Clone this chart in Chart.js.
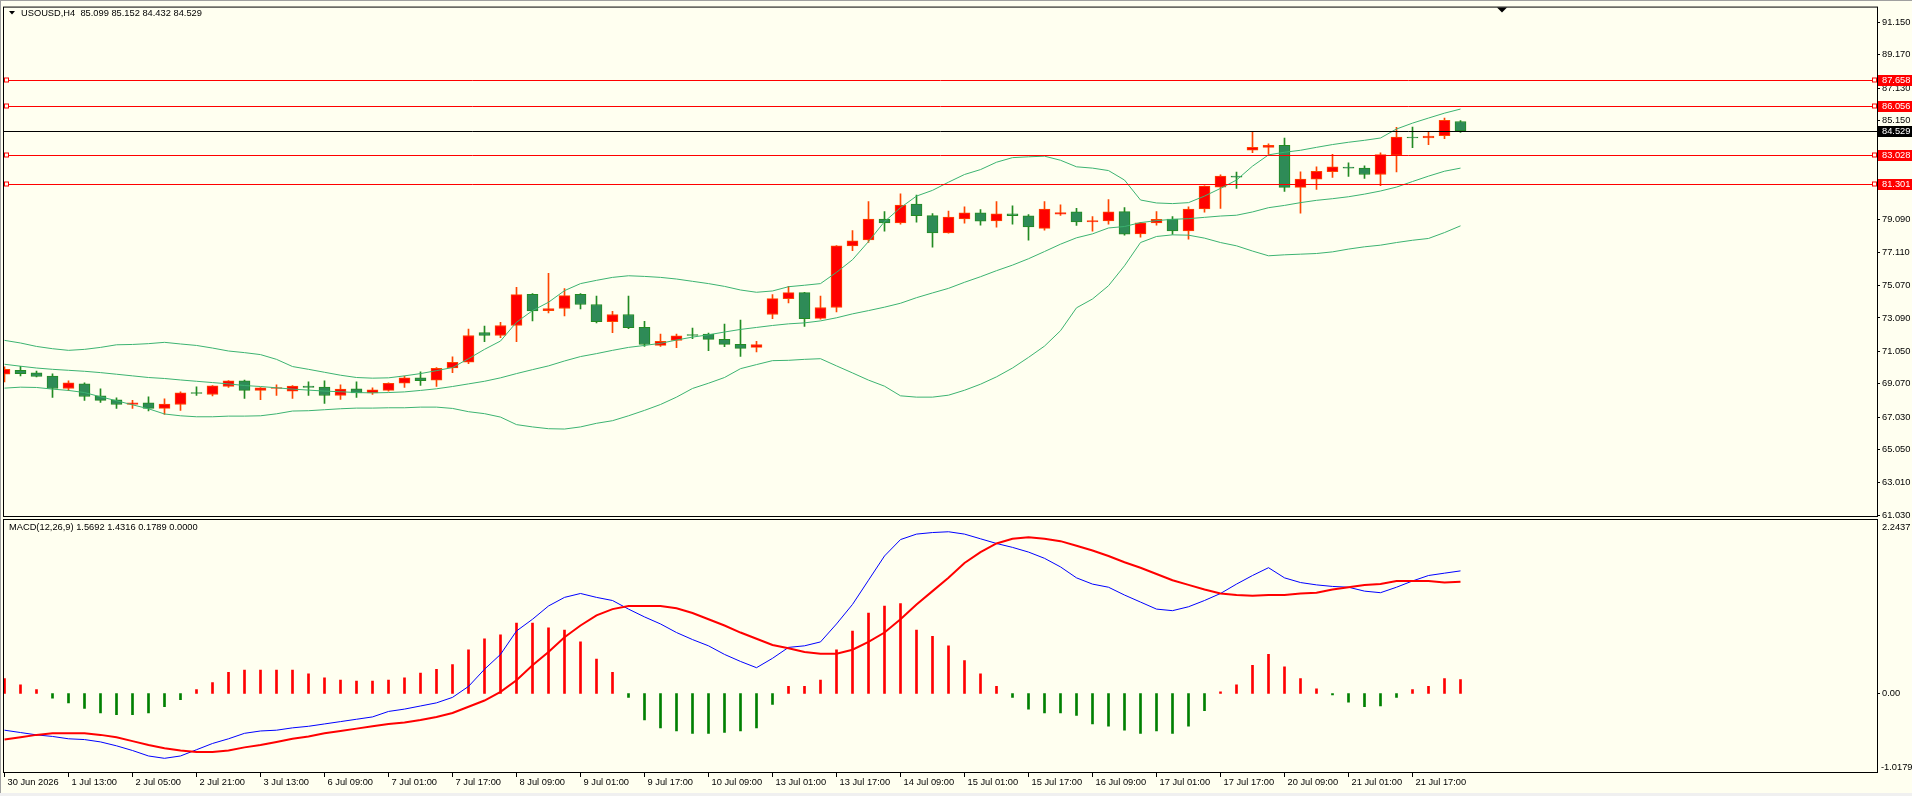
<!DOCTYPE html>
<html><head><meta charset="utf-8">
<script src="https://cdn.jsdelivr.net/npm/chart.js@4.4.1/dist/chart.umd.min.js"></script>
<style>html,body{margin:0;padding:0;background:#FFFFF0;overflow:hidden}canvas{display:block}</style>
</head><body>
<canvas id="c" width="1912" height="796"></canvas>
<script>
const symbolTitle = 'USOUSD,H4  85.099 85.152 84.432 84.529';
const macdTitle = 'MACD(12,26,9) 1.5692 1.4316 0.1789 0.0000';
const xTickLabels = ['30 Jun 2026','1 Jul 13:00','2 Jul 05:00','2 Jul 21:00','3 Jul 13:00','6 Jul 09:00','7 Jul 01:00','7 Jul 17:00','8 Jul 09:00','9 Jul 01:00','9 Jul 17:00','10 Jul 09:00','13 Jul 01:00','13 Jul 17:00','14 Jul 09:00','15 Jul 01:00','15 Jul 17:00','16 Jul 09:00','17 Jul 01:00','17 Jul 17:00','20 Jul 09:00','21 Jul 01:00','21 Jul 17:00'];
const barsPerTick = 4;
const priceTicks = [91.150,89.170,87.130,85.150,83.110,81.130,79.090,77.110,75.070,73.090,71.050,69.070,67.030,65.050,63.010,61.030];
const levels = [87.658, 86.056, 83.028, 81.301];
const lastPrice = 84.529;
const macdTicks = [2.2437, 0, -1.0179];

const openV = [69.65,69.89,69.73,69.53,68.78,69.06,68.33,68.09,67.80,67.90,67.56,67.80,68.50,68.41,68.90,69.24,68.66,68.78,68.62,68.92,68.86,68.35,68.76,68.51,
68.66,69.10,69.43,69.28,70.03,70.38,72.20,72.02,72.63,74.54,73.54,73.67,74.54,73.91,72.87,73.30,72.51,71.41,71.72,72.08,72.10,71.78,71.48,
71.29,73.30,74.27,74.64,73.06,73.73,77.50,77.86,79.14,78.90,80.05,79.35,78.29,79.14,79.51,79.02,79.45,79.33,78.57,79.43,79.57,78.96,79.02,
79.59,78.23,78.90,79.14,78.41,79.75,81.09,81.76,83.34,83.52,83.65,81.07,81.58,82.04,82.29,82.25,81.86,83.04,84.13,84.09,84.23,85.099];
const highV = [70.10,70.14,69.85,69.67,69.24,69.12,68.76,68.21,68.05,68.27,68.15,68.57,68.88,68.96,69.26,69.30,68.84,69.00,68.96,69.18,69.24,69.00,69.18,68.82,
69.12,69.53,69.79,70.06,70.72,72.41,72.59,72.83,74.96,74.58,75.82,74.88,74.58,74.42,73.50,74.42,72.89,72.10,72.10,72.47,72.16,72.71,72.96,
71.66,74.52,75.02,74.66,74.42,77.52,78.43,80.20,79.59,80.68,80.60,79.47,79.63,79.89,79.71,80.20,79.95,79.41,80.20,80.01,79.79,79.28,80.32,
79.83,78.94,79.59,79.28,79.89,81.17,81.84,82.00,84.46,83.73,84.09,82.02,82.33,83.10,82.57,82.39,83.18,84.74,84.76,84.46,85.31,85.152];
const lowV = [69.18,69.55,69.49,68.23,68.64,68.05,67.93,67.56,67.56,67.40,67.20,67.44,68.35,68.33,68.84,68.17,68.09,68.35,68.17,68.35,67.86,68.11,68.23,68.41,
68.62,68.84,68.96,68.90,69.75,70.30,71.64,71.88,71.64,72.91,73.40,73.22,73.65,72.79,72.19,72.43,71.35,71.35,71.27,71.82,71.09,71.33,70.74,
71.01,73.04,74.01,72.57,73.02,73.46,77.21,77.70,78.39,78.82,78.94,77.42,78.27,78.88,78.76,78.64,78.82,77.84,78.45,79.36,78.74,78.39,78.82,
78.15,78.03,78.76,78.19,77.90,79.55,79.79,81.01,83.20,83.08,80.83,79.49,80.95,81.68,81.74,81.62,81.17,82.02,83.50,83.69,84.05,84.432];
const closeV = [69.95,69.69,69.51,68.78,69.12,68.29,68.05,67.80,67.90,67.56,67.82,68.51,68.47,68.94,69.24,68.66,68.82,68.82,68.92,68.84,68.35,68.74,68.51,68.70,
69.10,69.43,69.26,70.01,70.38,72.02,72.02,72.63,74.52,73.52,73.67,74.46,73.91,72.87,73.30,72.49,71.47,71.66,72.00,72.02,71.78,71.48,71.23,
71.47,74.27,74.64,73.04,73.73,77.50,77.80,79.14,78.90,79.99,79.35,78.29,79.26,79.51,79.00,79.45,79.35,78.66,79.75,79.53,78.96,79.04,79.57,
78.21,78.90,79.12,78.41,79.75,81.15,81.76,81.70,83.52,83.65,81.07,81.58,82.06,82.33,82.25,81.86,83.08,84.15,84.09,84.21,85.17,84.529];

const bbUpper = [71.72,71.56,71.35,71.21,71.11,71.17,71.29,71.45,71.47,71.52,71.60,71.50,71.41,71.25,71.07,70.97,70.85,70.56,70.12,69.95,69.77,69.59,69.45,69.41,
69.43,69.55,69.69,69.87,70.06,70.60,71.17,71.68,72.83,73.54,74.05,74.76,75.19,75.39,75.57,75.67,75.63,75.57,75.47,75.33,75.19,75.02,74.80,
74.66,74.74,75.00,75.09,75.19,75.88,76.65,77.76,78.98,79.83,80.54,80.89,81.39,81.86,82.16,82.61,82.89,82.94,82.98,82.73,82.33,82.25,82.10,
81.52,80.30,80.12,80.08,80.14,80.54,81.01,81.52,82.37,83.06,83.22,83.34,83.52,83.69,83.83,83.95,84.09,84.64,85.00,85.31,85.61,85.86];
const bbMiddle = [70.26,70.14,70.03,69.95,69.89,69.83,69.75,69.65,69.55,69.45,69.39,69.30,69.22,69.14,69.06,68.96,68.90,68.82,68.74,68.68,68.62,68.58,68.53,68.51,
68.53,68.57,68.66,68.76,68.90,69.06,69.22,69.43,69.69,69.93,70.16,70.46,70.73,70.91,71.11,71.29,71.41,71.54,71.74,71.92,72.06,72.23,72.39,
72.51,72.63,72.73,72.79,72.91,73.10,73.34,73.54,73.75,73.99,74.33,74.62,74.90,75.27,75.61,75.98,76.32,76.71,77.15,77.60,77.99,78.23,78.59,
78.68,78.92,79.04,79.12,79.16,79.24,79.32,79.37,79.57,79.83,79.97,80.14,80.28,80.38,80.50,80.66,80.85,81.09,81.43,81.76,82.06,82.25];
const bbLower = [68.80,68.86,68.84,68.74,68.66,68.53,68.27,68.03,67.78,67.54,67.22,67.11,67.05,67.05,67.09,67.09,67.11,67.23,67.40,67.42,67.48,67.54,67.58,67.58,
67.60,67.60,67.64,67.64,67.56,67.36,67.24,67.03,66.57,66.43,66.32,66.30,66.43,66.65,66.81,67.11,67.44,67.80,68.25,68.78,69.10,69.45,69.99,
70.24,70.48,70.50,70.56,70.60,70.16,69.73,69.29,68.92,68.33,68.25,68.25,68.37,68.67,69.04,69.49,70.03,70.68,71.37,72.31,73.71,74.25,75.06,
76.28,77.70,78.07,78.17,78.15,77.97,77.70,77.50,77.18,76.89,76.95,76.99,77.03,77.13,77.30,77.44,77.54,77.70,77.84,77.95,78.31,78.72];

const macdMain = [-0.47,-0.50,-0.53,-0.55,-0.58,-0.59,-0.62,-0.67,-0.73,-0.80,
-0.83,-0.80,-0.72,-0.64,-0.58,-0.51,-0.48,-0.47,-0.44,-0.42,
-0.39,-0.36,-0.33,-0.30,-0.23,-0.20,-0.16,-0.12,-0.05,0.09,
0.31,0.50,0.80,0.95,1.12,1.23,1.28,1.23,1.19,1.08,
0.98,0.89,0.78,0.69,0.61,0.50,0.41,0.33,0.45,0.59,
0.61,0.66,0.89,1.14,1.45,1.76,1.97,2.04,2.06,2.07,
2.04,1.98,1.92,1.87,1.81,1.73,1.62,1.48,1.40,1.36,
1.26,1.17,1.08,1.06,1.11,1.19,1.28,1.40,1.51,1.61,
1.48,1.42,1.39,1.37,1.36,1.31,1.29,1.36,1.44,1.51,
1.54,1.5692];
const macdSignal = [-0.59,-0.56,-0.53,-0.51,-0.51,-0.51,-0.53,-0.56,-0.61,-0.66,
-0.70,-0.73,-0.75,-0.75,-0.73,-0.69,-0.66,-0.62,-0.58,-0.55,
-0.51,-0.48,-0.45,-0.42,-0.39,-0.37,-0.34,-0.30,-0.25,-0.17,
-0.09,0.02,0.17,0.36,0.53,0.72,0.87,1.00,1.08,1.12,
1.12,1.12,1.09,1.03,0.95,0.87,0.78,0.70,0.62,0.58,
0.53,0.51,0.51,0.56,0.66,0.78,0.95,1.14,1.31,1.48,
1.67,1.81,1.92,1.98,2.00,1.98,1.95,1.89,1.83,1.76,
1.68,1.61,1.53,1.45,1.39,1.33,1.28,1.26,1.25,1.26,
1.26,1.28,1.29,1.33,1.36,1.39,1.40,1.44,1.44,1.44,
1.42,1.4316];
const macdHist = [0.19,0.11,0.05,-0.06,-0.12,-0.19,-0.25,-0.27,-0.27,-0.25,
-0.17,-0.08,0.05,0.14,0.27,0.30,0.30,0.30,0.30,0.25,
0.20,0.17,0.16,0.16,0.17,0.20,0.26,0.31,0.37,0.56,
0.70,0.75,0.90,0.90,0.84,0.81,0.66,0.44,0.27,-0.05,
-0.34,-0.44,-0.48,-0.51,-0.51,-0.50,-0.48,-0.44,-0.14,0.09,
0.09,0.17,0.56,0.80,1.03,1.12,1.15,0.81,0.73,0.61,
0.42,0.25,0.09,-0.05,-0.20,-0.25,-0.25,-0.28,-0.39,-0.42,
-0.47,-0.51,-0.48,-0.51,-0.42,-0.22,0.02,0.11,0.36,0.50,
0.34,0.19,0.06,-0.02,-0.11,-0.17,-0.16,-0.05,0.05,0.09,
0.19,0.1789];

// ---- presentation constants ----
const FONT = '"Liberation Sans", Arial, sans-serif';
const FS = 9.3;
const BG = '#FFFFF0';
const UP_FILL = '#FF0000', UP_LINE = '#FF4500';
const DN_FILL = '#2E8B57', DN_LINE = '#228B22';
const BAND = '#3CB371';
const PX_PER_BAR = 16;
const PLOT_LEFT = 4, AXIS_W = 35, XAXIS_H = 23;
const plotW = 1912 - PLOT_LEFT - AXIS_W;
const xMin = -0.5 / PX_PER_BAR;
const xMax = xMin + plotW / PX_PER_BAR;
const priceMin = 60.85, priceMax = 92.063;
const shiftMarkerBar = 93.6;

const idx = openV.map((_, i) => i);
const isUp = i => closeV[i] >= openV[i];
const pts = arr => arr.map((v, i) => ({x: i, y: v}));

const mtPlugin = {
  id: 'mt',
  beforeDraw(chart) {
    const c = chart.ctx;
    c.save();
    c.fillStyle = BG; c.fillRect(0, 0, chart.width, chart.height);
    c.fillStyle = '#A0A0A0'; c.fillRect(0, 0, 1, chart.height); c.fillRect(0, 0, chart.width, 1);
    c.fillStyle = '#F0F0F0'; c.fillRect(0, 793, chart.width, 3);
    c.restore();
  },
  afterDatasetsDraw(chart) {
    const c = chart.ctx, ys = chart.scales.y, a = chart.chartArea;
    c.save();
    c.lineWidth = 1;
    // horizontal levels
    levels.forEach(v => {
      const y = Math.round(ys.getPixelForValue(v)) + 0.5;
      c.strokeStyle = '#FF0000';
      c.beginPath(); c.moveTo(a.left, y); c.lineTo(a.right, y); c.stroke();
      c.fillStyle = BG;
      c.fillRect(5, y - 2.5, 4, 4); c.strokeRect(4.5, y - 2.5, 4, 4);
      c.fillRect(a.right - 5, y - 2.5, 4, 4); c.strokeRect(a.right - 4.5, y - 2.5, 4, 4);
    });
    const yl = Math.round(ys.getPixelForValue(lastPrice)) + 0.5;
    c.strokeStyle = '#000';
    c.beginPath(); c.moveTo(a.left, yl); c.lineTo(a.right, yl); c.stroke();
    // panel borders
    const mBottom = Math.round(ys.bottom);
    c.strokeStyle = '#000';
    c.strokeRect(a.left - 0.5, a.top - 0.5, a.right - a.left + 1, mBottom - a.top - 0.5 + 0.5 - 1);
    c.strokeRect(a.left - 0.5, mBottom + 1.5, a.right - a.left + 1, a.bottom - mBottom - 2);
    c.restore();
  },
  afterDraw(chart) {
    const c = chart.ctx, ys = chart.scales.y, ms = chart.scales.macd, xs = chart.scales.x, a = chart.chartArea;
    c.save();
    c.font = FS + 'px ' + FONT;
    c.textBaseline = 'middle';
    // price tags
    const tag = (v, bg) => {
      const y = Math.round(ys.getPixelForValue(v));
      c.fillStyle = bg; c.fillRect(a.right + 1, y - 5, 1912 - a.right - 1, 11);
      c.fillStyle = '#FFFFFF'; c.fillText(v.toFixed(3), a.right + 5, y + 0.5);
    };
    levels.forEach(v => tag(v, '#FF0000'));
    tag(lastPrice, '#000000');
    // MACD axis labels
    c.fillStyle = '#000';
    c.fillText(macdTicks[0].toFixed(4), a.right + 5, Math.round(ms.getPixelForValue(macdTicks[0])) + 9);
    const y0 = Math.round(ms.getPixelForValue(macdTicks[1])) + 0.5;
    c.fillText(macdTicks[1].toFixed(2), a.right + 5, y0);
    c.beginPath(); c.moveTo(a.right, y0); c.lineTo(a.right + 3, y0); c.strokeStyle = '#000'; c.lineWidth = 1; c.stroke();
    c.fillText(macdTicks[2].toFixed(4), a.right + 4, Math.round(ms.getPixelForValue(macdTicks[2])) - 6);
    // titles
    c.fillStyle = '#000';
    c.fillText(symbolTitle, 21, 13);
    c.fillText(macdTitle, 9, 527);
    c.beginPath(); c.moveTo(9, 11); c.lineTo(15, 11); c.lineTo(12, 14.5); c.closePath(); c.fill();
    // chart shift marker
    const sx = Math.round(xs.getPixelForValue(shiftMarkerBar));
    c.beginPath(); c.moveTo(sx - 5, a.top); c.lineTo(sx + 5, a.top); c.lineTo(sx, a.top + 5); c.closePath(); c.fill();
    c.restore();
  }
};

new Chart(document.getElementById('c'), {
  type: 'bar',
  data: {
    datasets: [
      { type: 'bar', label: 'wick', data: idx.map(i => ({x: i, y: [lowV[i], highV[i]]})), yAxisID: 'y',
        grouped: false, barPercentage: 1, categoryPercentage: 1, maxBarThickness: 1, borderWidth: 0,
        backgroundColor: ctx => isUp(ctx.dataIndex) ? UP_LINE : DN_LINE, order: 4 },
      { type: 'bar', label: 'body', data: idx.map(i => ({x: i, y: [openV[i], closeV[i]]})), yAxisID: 'y',
        grouped: false, barPercentage: 1, categoryPercentage: 1, maxBarThickness: 11, minBarLength: 1,
        borderWidth: 1, borderSkipped: false,
        backgroundColor: ctx => isUp(ctx.dataIndex) ? UP_FILL : DN_FILL,
        borderColor: ctx => isUp(ctx.dataIndex) ? UP_LINE : DN_LINE, order: 3 },
      { type: 'line', label: 'BB upper', data: pts(bbUpper), yAxisID: 'y', borderColor: BAND, borderWidth: 1, pointRadius: 0, tension: 0, order: 1 },
      { type: 'line', label: 'BB middle', data: pts(bbMiddle), yAxisID: 'y', borderColor: BAND, borderWidth: 1, pointRadius: 0, tension: 0, order: 1 },
      { type: 'line', label: 'BB lower', data: pts(bbLower), yAxisID: 'y', borderColor: BAND, borderWidth: 1, pointRadius: 0, tension: 0, order: 1 },
      { type: 'bar', label: 'hist', data: pts(macdHist), yAxisID: 'macd',
        grouped: false, barPercentage: 1, categoryPercentage: 1, maxBarThickness: 2, borderWidth: 0,
        backgroundColor: ctx => macdHist[ctx.dataIndex] >= 0 ? '#FF0000' : '#008000', order: 4 },
      { type: 'line', label: 'MACD', data: pts(macdMain), yAxisID: 'macd', borderColor: '#0000FF', borderWidth: 1, pointRadius: 0, tension: 0, order: 1 },
      { type: 'line', label: 'Signal', data: pts(macdSignal), yAxisID: 'macd', borderColor: '#FF0000', borderWidth: 2, pointRadius: 0, tension: 0, order: 0 }
    ]
  },
  options: {
    responsive: false, animation: false, devicePixelRatio: 1, events: [],
    layout: { padding: { left: PLOT_LEFT, top: 4, right: 0, bottom: 0 } },
    plugins: { legend: { display: false }, tooltip: { enabled: false } },
    scales: {
      x: {
        type: 'linear', position: 'bottom', min: xMin, max: xMax, offset: false, bounds: 'data',
        afterBuildTicks: s => { s.ticks = xTickLabels.map((_, k) => ({ value: k * barsPerTick })); },
        afterFit: s => { s.height = XAXIS_H; },
        ticks: { autoSkip: false, maxRotation: 0, minRotation: 0, align: 'start', labelOffset: 3, padding: 0,
          color: '#000', font: { family: FONT, size: FS }, callback: (v, i) => xTickLabels[i] },
        grid: { offset: false, drawOnChartArea: false, drawTicks: true, tickLength: 4, color: '#000', lineWidth: 1 },
        border: { display: false }
      },
      y: {
        type: 'linear', position: 'right', stack: 'panels', stackWeight: 513, min: priceMin, max: priceMax, bounds: 'data',
        afterBuildTicks: s => { s.ticks = priceTicks.map(v => ({ value: v })); },
        afterFit: s => { s.width = AXIS_W; },
        ticks: { autoSkip: false, padding: 2, color: '#000', font: { family: FONT, size: FS }, callback: v => v.toFixed(3) },
        grid: { drawOnChartArea: false, drawTicks: true, tickLength: 3, color: '#000', lineWidth: 1 },
        border: { display: false }
      },
      macd: {
        type: 'linear', position: 'right', stack: 'panels', stackWeight: 256, min: macdTicks[2], max: macdTicks[0], bounds: 'data',
        afterFit: s => { s.width = AXIS_W; },
        ticks: { display: false },
        grid: { display: false },
        border: { display: false }
      }
    }
  },
  plugins: [mtPlugin]
});
</script>
</body></html>
